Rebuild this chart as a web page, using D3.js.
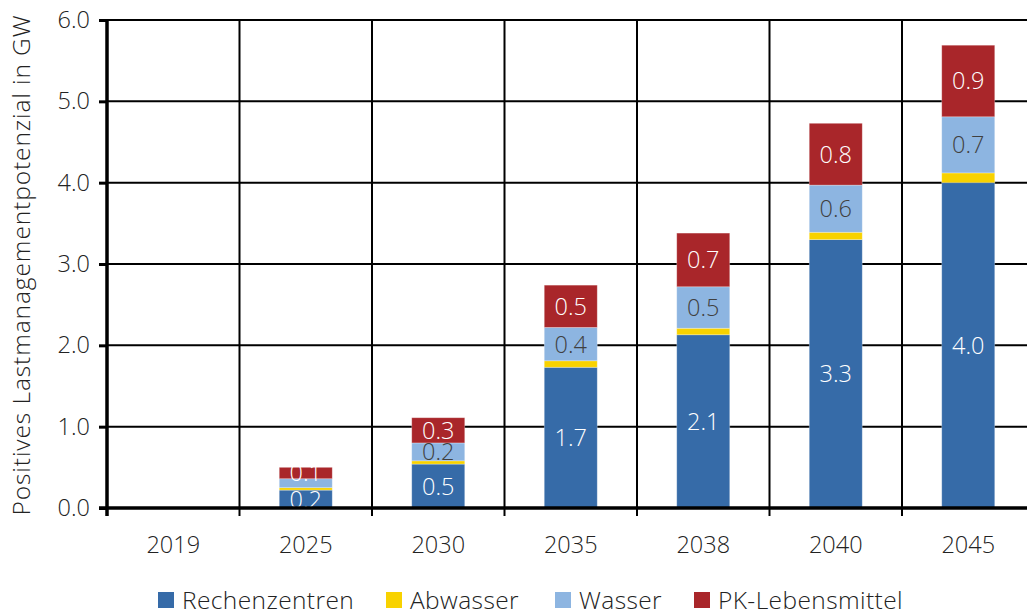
<!DOCTYPE html>
<html>
<head>
<meta charset="utf-8">
<script src="https://cdn.jsdelivr.net/npm/d3@7"></script>
<style>
  body { margin: 0; background: #fff; }
  svg { display: block; font-family: "Open Sans", "Noto Sans", sans-serif; font-weight: 300; }
</style>
</head>
<body>
<svg id="chart" width="1027" height="616"></svg>
<script>
const years = ["2019", "2025", "2030", "2035", "2038", "2040", "2045"];
const seriesNames = ["Rechenzentren", "Abwasser", "Wasser", "PK-Lebensmittel"];
const rechenzentren = [0, 0.22, 0.54, 1.73, 2.13, 3.30, 4.00];
const abwasser      = [0, 0.03, 0.04, 0.08, 0.08, 0.09, 0.12];
const wasser        = [0, 0.11, 0.22, 0.41, 0.51, 0.58, 0.69];
const pkLebensmittel= [0, 0.14, 0.31, 0.52, 0.66, 0.76, 0.88];
const yTicks = [0, 1, 2, 3, 4, 5, 6];
const yTitle = "Positives Lastmanagementpotenzial in GW";

const colors = ["#366BA8", "#F8D200", "#8DB5E1", "#A9262A"];
const labelColors = ["#ffffff", null, "#404040", "#ffffff"];
const minLabelValue = 0.12;

const seriesArrays = [rechenzentren, abwasser, wasser, pkLebensmittel];
const table = years.map((yr, i) => {
  const o = { year: yr };
  seriesNames.forEach((s, k) => o[s] = seriesArrays[k][i]);
  return o;
});

(function () {
const svg = d3.select("#chart");
const mLeft = 107, mTop = 20, mBottom = 508;
const step = 132.5;
const mRight = mLeft + step * years.length;

const x = d3.scaleBand().domain(years).range([mLeft, mRight]).paddingInner(0.6).paddingOuter(0.3);
const y = d3.scaleLinear().domain([0, 6]).range([mBottom, mTop]);

const stack = d3.stack().keys(seriesNames)(table);

// horizontal gridlines
svg.append("g").selectAll("line").data(yTicks.filter(d => d > 0)).join("line")
  .attr("x1", mLeft).attr("x2", 1027)
  .attr("y1", d => y(d)).attr("y2", d => y(d))
  .attr("stroke", "#000").attr("stroke-width", 2);

// vertical gridlines (category separators) with ticks below axis
svg.append("g").selectAll("line").data(d3.range(1, years.length)).join("line")
  .attr("x1", i => x.range()[0] + i * x.step()).attr("x2", i => x.range()[0] + i * x.step())
  .attr("y1", mTop).attr("y2", mBottom + 8)
  .attr("stroke", "#000").attr("stroke-width", 2);

// bars
const layer = svg.append("g").selectAll("g").data(stack).join("g")
  .attr("fill", (d, i) => colors[i]);
layer.selectAll("rect").data(d => d.filter(p => p[1] - p[0] > 0)).join("rect")
  .attr("x", d => x(d.data.year))
  .attr("width", x.bandwidth())
  .attr("y", d => y(d[1]))
  .attr("height", d => y(d[0]) - y(d[1]))
  .attr("stroke", "rgba(255,255,255,0.35)").attr("stroke-width", 0.8);

// labels
const fmt = d3.format(".1f");
stack.forEach((s, k) => {
  if (!labelColors[k]) return;
  svg.append("g").selectAll("text").data(s.filter(p => p[1] - p[0] >= minLabelValue || (k === 0 && p[1] - p[0] > 0))).join("text")
    .attr("x", d => x(d.data.year) + x.bandwidth() / 2)
    .attr("y", d => (y(d[0]) + y(d[1])) / 2)
    .attr("dy", "0.36em")
    .attr("text-anchor", "middle")
    .attr("font-size", 23.5)
    .attr("fill", labelColors[k])
    .text(d => fmt(d[1] - d[0]));
});

// y axis
const yAxis = d3.axisLeft(y).tickValues(yTicks).tickFormat(d3.format(".1f")).tickSize(8).tickPadding(9);
const gy = svg.append("g").attr("transform", `translate(${mLeft},0)`).call(yAxis);
gy.select(".domain").attr("stroke", "#000").attr("stroke-width", 3.5)
  .attr("d", `M0,${mTop}V${mBottom + 8}`);
gy.selectAll(".tick line").attr("stroke", "#000").attr("stroke-width", 3);
gy.selectAll(".tick text").attr("font-size", 23.5).attr("fill", "#222")
  .attr("font-family", "'Open Sans', sans-serif").attr("font-weight", 300);

// x axis
const xAxis = d3.axisBottom(x).tickSize(0).tickPadding(28);
const gx = svg.append("g").attr("transform", `translate(0,${mBottom})`).call(xAxis);
gx.select(".domain").attr("stroke", "#000").attr("stroke-width", 3.5)
  .attr("d", `M${mLeft - 8},0H1027`);
gx.selectAll(".tick text").attr("font-size", 23.5).attr("fill", "#222")
  .attr("font-family", "'Open Sans', sans-serif").attr("font-weight", 300);

// y title
svg.append("text")
  .attr("transform", `translate(30,265) rotate(-90)`)
  .attr("text-anchor", "middle")
  .attr("font-size", 24.5)
  .attr("letter-spacing", 0.9)
  .attr("fill", "#222")
  .text(yTitle);

// legend
const legendX = [158, 386, 555, 694];
const lg = svg.append("g").selectAll("g").data(seriesNames).join("g")
  .attr("transform", (d, i) => `translate(${legendX[i]},600)`);
lg.append("rect").attr("x", 0).attr("y", -8).attr("width", 16).attr("height", 16)
  .attr("fill", (d, i) => colors[i]);
lg.append("text").attr("x", 24).attr("dy", "0.36em").attr("font-size", 24.5)
  .attr("letter-spacing", 0.4).attr("fill", "#222")
  .text(d => d);
})();
</script>
</body>
</html>
